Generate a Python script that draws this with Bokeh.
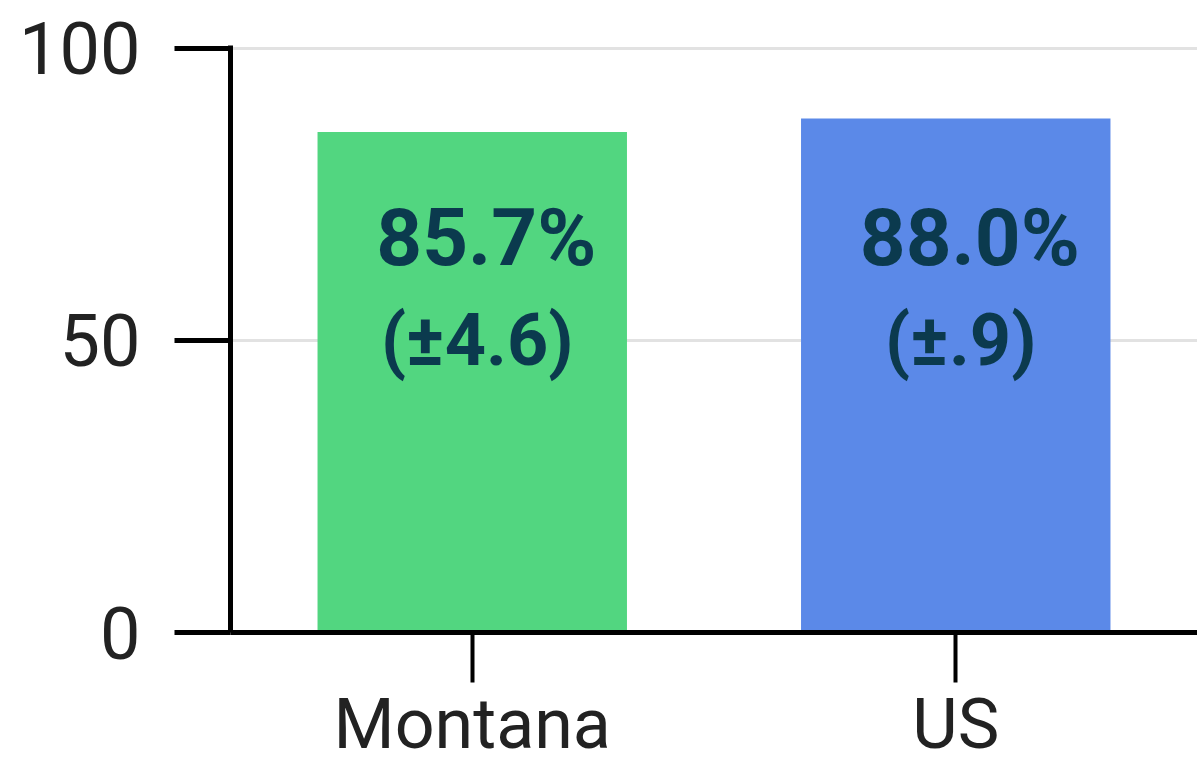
from bokeh.plotting import figure
from bokeh.models import ColumnDataSource, FactorRange, Range1d, FixedTicker
from bokeh.embed import file_html
from bokeh.resources import INLINE
from bokeh.core.properties import value

categories = ["Montana", "US"]
percent = [85.7, 88.0]
margin_of_error = [4.6, 0.9]
value_labels = ["85.7%", "88.0%"]
margin_labels = ["(±4.6)", "(±.9)"]
colors = ["#52D680", "#5B89E8"]
y_ticks = [0, 50, 100]

src = ColumnDataSource(dict(cat=categories, pct=percent, moe=margin_of_error,
                            color=colors, vlab=value_labels, mlab=margin_labels))

p = figure(x_range=FactorRange(*categories, range_padding=0),
           y_range=Range1d(0, 100.5),
           width=1197, height=769,
           output_backend="svg", toolbar_location=None,
           min_border_left=230, min_border_right=0,
           min_border_top=45, min_border_bottom=137)
p.outline_line_color = None
p.background_fill_color = "white"

p.vbar(x="cat", top="pct", width=0.64, fill_color="color", line_color=None, source=src)

p.text(x="cat", y=67.5, text="vlab", source=src, x_offset=14,
       text_font=value("Roboto"), text_font_style="bold", text_font_size="80px",
       text_color="#0B3A4E", text_align="center", text_baseline="middle")
p.text(x="cat", y=50, text="mlab", source=src, x_offset=5,
       text_font=value("Roboto"), text_font_style="bold", text_font_size="72px",
       text_color="#0B3A4E", text_align="center", text_baseline="middle")

p.xgrid.visible = False
p.ygrid.grid_line_color = "#E2E2E2"
p.ygrid.grid_line_width = 3
p.yaxis.ticker = FixedTicker(ticks=y_ticks)

for ax in (p.xaxis, p.yaxis):
    ax.axis_line_color = "black"
    ax.axis_line_width = 5
    ax.major_tick_line_color = "black"
    ax.major_tick_line_width = 5
    ax.major_tick_out = 56
    ax.major_tick_in = 0
    ax.minor_tick_line_color = None
    ax.major_label_text_font = "Roboto"
    ax.major_label_text_font_size = "72px"
    ax.major_label_text_color = "#222222"

p.yaxis.major_label_standoff = 34
p.xaxis.major_tick_out = 50
p.xaxis.major_label_standoff = 0
p.xaxis.major_label_text_font_size = "70px"
p.xaxis.major_tick_line_width = 4

open("out.html", "w").write(file_html(p, INLINE))
